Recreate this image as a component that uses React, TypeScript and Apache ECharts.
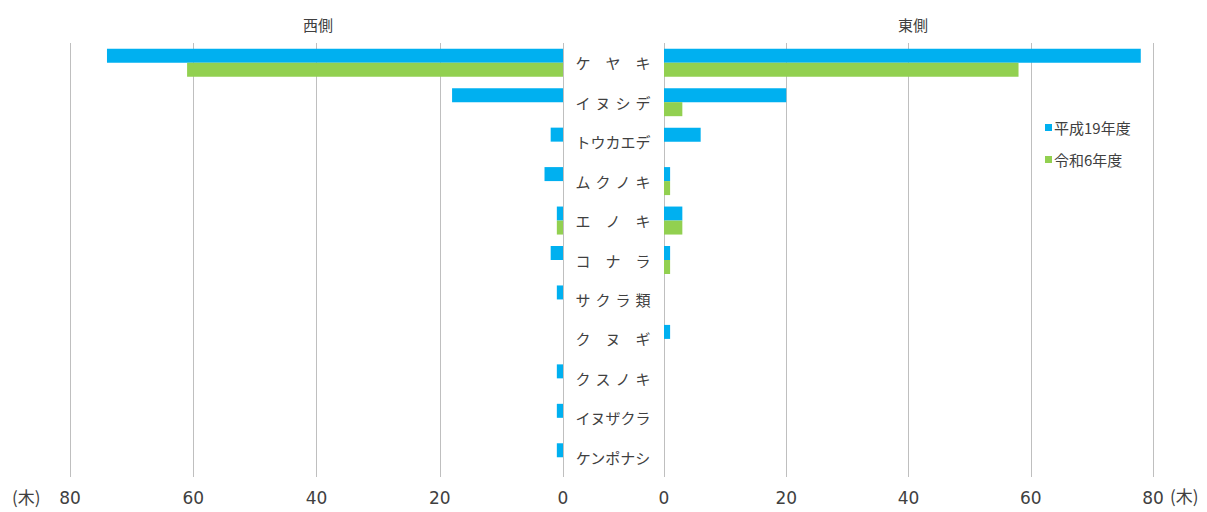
import React, { useEffect, useRef } from "react";
import * as echarts from "echarts";

const categories = ["ケヤキ", "イヌシデ", "トウカエデ", "ムクノキ", "エノキ", "コナラ", "サクラ類", "クヌギ", "クスノキ", "イヌザクラ", "ケンポナシ"];
const seriesNames = ["平成19年度", "令和6年度"];
const westH19 = [74, 18, 2, 3, 1, 2, 1, 0, 1, 1, 1];
const westR6 = [61, 0, 0, 0, 1, 0, 0, 0, 0, 0, 0];
const eastH19 = [78, 20, 6, 1, 3, 1, 0, 1, 0, 0, 0];
const eastR6 = [58, 3, 0, 1, 3, 1, 0, 0, 0, 0, 0];
const panelTitles = ["西側", "東側"];
const unitLabel = "(木)";

const FONT = "'Noto Sans CJK JP', 'Noto Sans', sans-serif";
const NUM_FONT = "'DejaVu Sans', 'Noto Sans', sans-serif";
const BLUE = "#00B0F0";
const GREEN = "#92D050";
const TEXT = "#404040";
const GRID = "#BFBFBF";

function spread(v: string): string {
  const chars = v.split("");
  if (chars.length === 3) return chars.join("\u3000");
  if (chars.length === 4) return chars.join("\u2004");
  return v;
}

export default function App() {
  const ref = useRef<HTMLDivElement>(null);
  useEffect(() => {
    if (!ref.current) return;
    const chart = echarts.init(ref.current, undefined, { renderer: "svg" });
    const xAxisCommon = {
      type: "value" as const,
      min: 0,
      max: 80,
      interval: 20,
      axisLine: { show: false },
      axisTick: { show: false },
      splitLine: { show: true, lineStyle: { color: GRID, width: 1 } },
      axisLabel: { color: TEXT, fontSize: 17, fontFamily: NUM_FONT, margin: 12 },
    };
    const yAxisCommon = {
      type: "category" as const,
      data: categories,
      inverse: true,
      axisLine: { show: false },
      axisTick: { show: false },
    };
    const barCommon = {
      type: "bar" as const,
      barWidth: 14,
      barGap: "0%",
    };
    chart.setOption({
      animation: false,
      textStyle: { fontFamily: FONT },
      title: [
        { text: panelTitles[0], left: 313, top: 12, textAlign: "center", textStyle: { fontSize: 15, fontWeight: "normal", color: TEXT, fontFamily: FONT } },
        { text: panelTitles[1], left: 908, top: 12, textAlign: "center", textStyle: { fontSize: 15, fontWeight: "normal", color: TEXT, fontFamily: FONT } },
      ],
      legend: {
        orient: "vertical",
        left: 1040,
        top: 115,
        itemWidth: 7,
        itemHeight: 7,
        itemGap: 17,
        icon: "rect",
        data: seriesNames,
        textStyle: { fontSize: 15, color: TEXT, fontFamily: FONT, padding: [0, 0, 0, -3] },
      },
      grid: [
        { left: 70, right: 1207 - 563, top: 43, bottom: 35 },
        { left: 664, right: 1207 - 1153, top: 43, bottom: 35 },
      ],
      xAxis: [
        { ...xAxisCommon, gridIndex: 0, inverse: true },
        { ...xAxisCommon, gridIndex: 1 },
      ],
      yAxis: [
        {
          ...yAxisCommon,
          gridIndex: 0,
          position: "right",
          axisLabel: {
            show: true,
            align: "center",
            margin: 50,
            fontSize: 15,
            color: TEXT,
            fontFamily: FONT,
            formatter: (v: string) => spread(v),
          },
        },
        { ...yAxisCommon, gridIndex: 1, axisLabel: { show: false } },
      ],
      graphic: [
        { type: "text", left: 12, top: 488, style: { text: unitLabel, fontSize: 17, fill: TEXT, fontFamily: FONT } },
        { type: "text", left: 1170, top: 487, style: { text: unitLabel, fontSize: 17, fill: TEXT, fontFamily: FONT } },
      ],
      series: [
        { ...barCommon, name: seriesNames[0], xAxisIndex: 0, yAxisIndex: 0, data: westH19, itemStyle: { color: BLUE } },
        { ...barCommon, name: seriesNames[1], xAxisIndex: 0, yAxisIndex: 0, data: westR6, itemStyle: { color: GREEN } },
        { ...barCommon, name: seriesNames[0], xAxisIndex: 1, yAxisIndex: 1, data: eastH19, itemStyle: { color: BLUE } },
        { ...barCommon, name: seriesNames[1], xAxisIndex: 1, yAxisIndex: 1, data: eastR6, itemStyle: { color: GREEN } },
      ],
    });
    return () => chart.dispose();
  }, []);
  return <div ref={ref} style={{ width: 1207, height: 512, position: "absolute", left: 0, top: 0 }} />;
}
